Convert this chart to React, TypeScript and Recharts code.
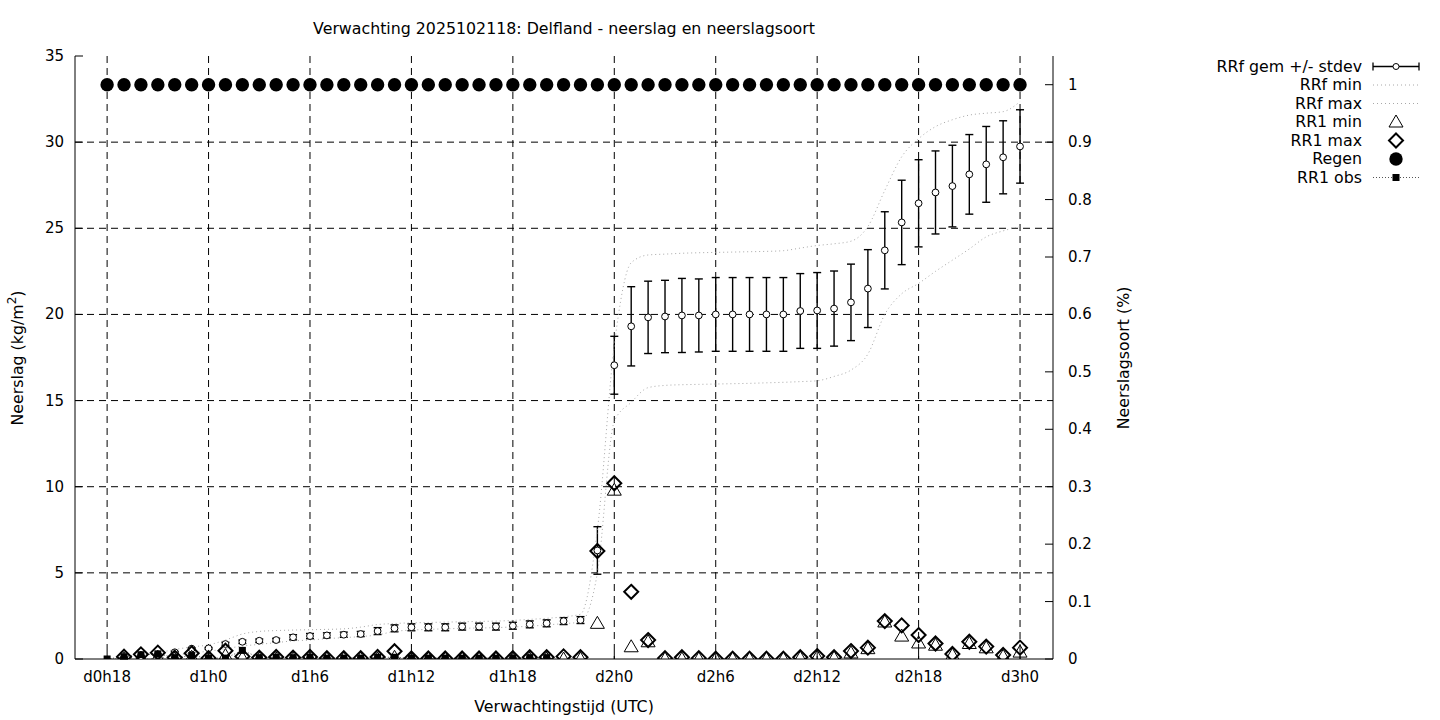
import React from "react";
import { ComposedChart, Line, XAxis, YAxis, CartesianGrid, ErrorBar } from "recharts";

const hours = [18, 19, 20, 21, 22, 23, 24, 25, 26, 27, 28, 29, 30, 31, 32, 33, 34, 35, 36, 37, 38, 39, 40, 41, 42, 43, 44, 45, 46, 47, 48, 49, 50, 51, 52, 53, 54, 55, 56, 57, 58, 59, 60, 61, 62, 63, 64, 65, 66, 67, 68, 69, 70, 71, 72];

const rrfMean = [null, 0.05, 0.15, 0.25, 0.39, 0.6, 0.62, 0.87, 1.0, 1.06, 1.1, 1.26, 1.33, 1.37, 1.41, 1.45, 1.62, 1.78, 1.84, 1.84, 1.84, 1.88, 1.88, 1.88, 1.93, 2.01, 2.07, 2.2, 2.26, 6.3, 17.05, 19.31, 19.83, 19.88, 19.94, 19.94, 20.0, 20.0, 20.0, 20.0, 20.0, 20.2, 20.23, 20.34, 20.7, 21.5, 23.72, 25.34, 26.45, 27.08, 27.45, 28.13, 28.71, 29.12, 29.75];

const rrfSd = [null, 0.05, 0.05, 0.05, 0.05, 0.05, 0.05, 0.1, 0.1, 0.1, 0.1, 0.15, 0.15, 0.15, 0.15, 0.15, 0.2, 0.2, 0.2, 0.2, 0.2, 0.2, 0.2, 0.2, 0.2, 0.2, 0.2, 0.2, 0.2, 1.38, 1.68, 2.3, 2.1, 2.1, 2.15, 2.12, 2.14, 2.14, 2.14, 2.14, 2.14, 2.17, 2.2, 2.18, 2.22, 2.26, 2.24, 2.45, 2.53, 2.41, 2.37, 2.31, 2.2, 2.12, 2.13];

const rrfMin = [0, 0, 0, 0.05, 0.2, 0.35, 0.45, 0.6, 0.75, 0.85, 0.95, 1.05, 1.1, 1.18, 1.24, 1.3, 1.4, 1.6, 1.68, 1.72, 1.75, 1.78, 1.8, 1.82, 1.86, 1.9, 1.98, 2.05, 2.15, 5.0, 13.8, 14.9, 15.75, 15.88, 15.92, 15.94, 15.96, 15.98, 16.0, 16.03, 16.06, 16.1, 16.15, 16.4, 16.77, 17.7, 20.0, 21.2, 21.8, 22.5, 23.15, 23.8, 24.5, 24.85, 25.1];

const rrfMax = [0, 0.05, 0.15, 0.35, 0.55, 0.7, 0.82, 1.1, 1.45, 1.6, 1.65, 1.68, 1.7, 1.72, 1.75, 1.85, 2.0, 2.06, 2.1, 2.12, 2.14, 2.16, 2.18, 2.2, 2.24, 2.3, 2.36, 2.45, 2.6, 7.5, 18.2, 23.0, 23.45, 23.5, 23.55, 23.58, 23.6, 23.62, 23.64, 23.66, 23.7, 23.85, 24.0, 24.1, 24.25, 25.1, 27.2, 29.15, 30.2, 30.9, 31.3, 31.57, 31.68, 31.77, 32.35];

const rr1Min = [null, 0, 0.05, 0.1, 0, 0.1, 0, 0.2, 0.05, 0, 0, 0, 0, 0, 0, 0, 0, 0.1, 0, 0, 0, 0, 0, 0, 0, 0, 0, 0, 0, 2.07, 9.8, 0.71, 1.0, 0, 0, 0, 0, 0, 0, 0, 0, 0.05, 0.1, 0.05, 0.35, 0.6, 2.15, 1.33, 0.93, 0.8, 0.22, 0.9, 0.65, 0.15, 0.4];

const rr1Max = [null, 0.13, 0.27, 0.37, 0.08, 0.33, 0.05, 0.48, 0.15, 0.08, 0.12, 0.08, 0.12, 0.05, 0.05, 0.05, 0.12, 0.45, 0.03, 0.03, 0.03, 0.03, 0.03, 0.03, 0.05, 0.1, 0.1, 0.15, 0.1, 6.27, 10.2, 3.9, 1.1, 0.05, 0.1, 0.05, 0.02, 0.02, 0.02, 0.02, 0.02, 0.1, 0.17, 0.1, 0.46, 0.66, 2.2, 1.95, 1.39, 0.9, 0.29, 1.0, 0.72, 0.23, 0.66];

const regen = [1, 1, 1, 1, 1, 1, 1, 1, 1, 1, 1, 1, 1, 1, 1, 1, 1, 1, 1, 1, 1, 1, 1, 1, 1, 1, 1, 1, 1, 1, 1, 1, 1, 1, 1, 1, 1, 1, 1, 1, 1, 1, 1, 1, 1, 1, 1, 1, 1, 1, 1, 1, 1, 1, 1];

const rr1Obs = [0, 0.13, 0.25, 0.3, 0.08, 0.2, 0.05, 0.05, 0.5, 0.08, 0.1, 0.08, 0.1, 0.05, 0.05, 0.05, 0.1, 0.1, 0.05, 0.05, 0.05, 0.05, 0.05, 0.05, 0.05, 0.08, 0.08, null, null, null, null, null, null, null, null, null, null, null, null, null, null, null, null, null, null, null, null, null, null, null, null, null, null, null, null];

const xTicks = [18, 24, 30, 36, 42, 48, 54, 60, 66, 72];
const xTickLabels = ["d0h18", "d1h0", "d1h6", "d1h12", "d1h18", "d2h0", "d2h6", "d2h12", "d2h18", "d3h0"];
const yTicks = [0, 5, 10, 15, 20, 25, 30, 35];
const y2Ticks = [0, 0.1, 0.2, 0.3, 0.4, 0.5, 0.6, 0.7, 0.8, 0.9, 1];
const gridY = [5, 10, 15, 20, 25, 30];

const title = "Verwachting 2025102118: Delfland - neerslag en neerslagsoort";
const xLabel = "Verwachtingstijd (UTC)";
const yLabelMain = "Neerslag (kg/m";
const yLabelSup = "2";
const yLabelEnd = ")";
const y2Label = "Neerslagsoort (%)";
const legendNames = ["RRf gem +/- stdev", "RRf min", "RRf max", "RR1 min", "RR1 max", "Regen", "RR1 obs"];

const data = hours.map((h, i) => ({
  h,
  mean: rrfMean[i],
  sd: rrfSd[i],
  rmin: rrfMin[i],
  rmax: rrfMax[i],
  min1: rr1Min[i],
  max1: rr1Max[i],
  regen: regen[i],
  obs: rr1Obs[i],
}));

const FONT = "'DejaVu Sans', sans-serif";
const FS = 15;
const FL = 15.8;

const ok = (p: any) => p && p.cx != null && p.cy != null && !isNaN(p.cx) && !isNaN(p.cy) && p.value != null;

const openCircle = (p: any) =>
  ok(p) ? <circle key={"c" + p.index} cx={p.cx} cy={p.cy} r={3.4} fill="#fff" stroke="#000" strokeWidth={1} /> : <g key={"c" + p.index} />;

const triangle = (p: any) =>
  ok(p) ? (
    <path key={"t" + p.index} d={`M${p.cx},${p.cy - 7}L${p.cx + 7},${p.cy + 5}L${p.cx - 7},${p.cy + 5}Z`} fill="none" stroke="#000" strokeWidth={1} />
  ) : <g key={"t" + p.index} />;

const diamond = (p: any) =>
  ok(p) ? (
    <path key={"d" + p.index} d={`M${p.cx},${p.cy - 7}L${p.cx + 7},${p.cy}L${p.cx},${p.cy + 7}L${p.cx - 7},${p.cy}Z`} fill="none" stroke="#000" strokeWidth={2} />
  ) : <g key={"d" + p.index} />;

const bigDot = (p: any) =>
  ok(p) ? <circle key={"r" + p.index} cx={p.cx} cy={p.cy} r={6.7} fill="#000" /> : <g key={"r" + p.index} />;

const square = (p: any) =>
  ok(p) ? <rect key={"s" + p.index} x={p.cx - 3.5} y={p.cy - 3.5} width={7} height={7} fill="#000" /> : <g key={"s" + p.index} />;

const XTick = (p: any) => {
  const i = xTicks.indexOf(p.payload.value);
  return (
    <g>
      <line x1={p.x} x2={p.x} y1={p.y} y2={p.y - 8} stroke="#000" />
      <text x={p.x} y={p.y + 23} textAnchor="middle" fontFamily={FONT} fontSize={FS} fill="#000">
        {i >= 0 ? xTickLabels[i] : ""}
      </text>
    </g>
  );
};

const YTick = (p: any) => (
  <g>
    <line x1={p.x} x2={p.x + 8} y1={p.y} y2={p.y} stroke="#000" />
    <text x={p.x - 11} y={p.y + 5} textAnchor="end" fontFamily={FONT} fontSize={FS} fill="#000">
      {p.payload.value}
    </text>
  </g>
);

const Y2Tick = (p: any) => (
  <g>
    <line x1={p.x} x2={p.x - 8} y1={p.y} y2={p.y} stroke="#000" />
    <text x={p.x + 15} y={p.y + 5} textAnchor="start" fontFamily={FONT} fontSize={FS} fill="#000">
      {p.payload.value}
    </text>
  </g>
);

const Overlay = () => {
  const rowY = [66.5, 85, 103.5, 122, 140.5, 159, 177.5];
  const tx = 1362;
  const sx = 1396;
  const symbols = [
    <g key="s0">
      <line x1={1373} x2={1419} y1={rowY[0]} y2={rowY[0]} stroke="#000" strokeWidth={1.3} />
      <line x1={1373} x2={1373} y1={rowY[0] - 4} y2={rowY[0] + 4} stroke="#000" strokeWidth={1.3} />
      <line x1={1419} x2={1419} y1={rowY[0] - 4} y2={rowY[0] + 4} stroke="#000" strokeWidth={1.3} />
      <circle cx={sx} cy={rowY[0]} r={3} fill="#fff" stroke="#000" />
    </g>,
    <line key="s1" x1={1373} x2={1418} y1={rowY[1]} y2={rowY[1]} stroke="#a8a8a8" strokeDasharray="1 3" />,
    <line key="s2" x1={1373} x2={1418} y1={rowY[2]} y2={rowY[2]} stroke="#a8a8a8" strokeDasharray="1 3" />,
    <path key="s3" d={`M${sx},${rowY[3] - 7}L${sx + 7},${rowY[3] + 5}L${sx - 7},${rowY[3] + 5}Z`} fill="none" stroke="#000" />,
    <path key="s4" d={`M${sx},${rowY[4] - 7}L${sx + 7},${rowY[4]}L${sx},${rowY[4] + 7}L${sx - 7},${rowY[4]}Z`} fill="none" stroke="#000" strokeWidth={2} />,
    <circle key="s5" cx={sx} cy={rowY[5]} r={6.7} fill="#000" />,
    <g key="s6">
      <line x1={1373} x2={1419} y1={rowY[6]} y2={rowY[6]} stroke="#555" strokeDasharray="1 2" />
      <rect x={sx - 3.5} y={rowY[6] - 3.5} width={7} height={7} fill="#000" />
    </g>,
  ];
  return (
    <svg width={1440} height={720} style={{ position: "absolute", left: 0, top: 0, pointerEvents: "none" }}>
      <text x={564} y={34} textAnchor="middle" fontFamily={FONT} fontSize={FL} fill="#000">{title}</text>
      <text x={564} y={712} textAnchor="middle" fontFamily={FONT} fontSize={FL} fill="#000">{xLabel}</text>
      <text transform="translate(23,358) rotate(-90)" textAnchor="middle" fontFamily={FONT} fontSize={FL} fill="#000">
        {yLabelMain}
        <tspan dy={-7} fontSize={12}>{yLabelSup}</tspan>
        <tspan dy={7}>{yLabelEnd}</tspan>
      </text>
      <text transform="translate(1129,358) rotate(-90)" textAnchor="middle" fontFamily={FONT} fontSize={FL} fill="#000">{y2Label}</text>
      {legendNames.map((n, i) => (
        <text key={n} x={tx} y={rowY[i] + 5} textAnchor="end" fontFamily={FONT} fontSize={FL} fill="#000">{n}</text>
      ))}
      {symbols}
    </svg>
  );
};

export default function App() {
  return (
    <div style={{ position: "absolute", left: 0, top: 0, width: 1440, height: 720, background: "#fff" }}>
      <ComposedChart width={1440} height={720} data={data} margin={{ top: 56, right: 327, bottom: 31, left: 0 }}>
        <CartesianGrid
          yAxisId="left"
          stroke="#000"
          strokeDasharray="7 5"
          horizontalValues={gridY}
          verticalValues={xTicks}
        />
        <XAxis
          dataKey="h"
          type="number"
          domain={[16.1, 73.95]}
          allowDataOverflow
          ticks={xTicks}
          interval={0}
          height={30}
          tickSize={0}
          tickMargin={0}
          tickLine={false}
          axisLine={{ stroke: "#000" }}
          tick={<XTick />}
        />
        <YAxis
          yAxisId="left"
          domain={[0, 35]}
          allowDataOverflow
          ticks={yTicks}
          interval={0}
          width={75}
          tickSize={0}
          tickMargin={0}
          tickLine={false}
          axisLine={{ stroke: "#000" }}
          tick={<YTick />}
        />
        <YAxis
          yAxisId="right"
          orientation="right"
          domain={[0, 1.05]}
          allowDataOverflow
          ticks={y2Ticks}
          interval={0}
          width={60}
          tickSize={0}
          tickMargin={0}
          tickLine={false}
          axisLine={{ stroke: "#000" }}
          tick={<Y2Tick />}
        />
        <Line yAxisId="left" dataKey="mean" stroke="none" isAnimationActive={false} dot={openCircle} activeDot={false} connectNulls={false}>
          <ErrorBar dataKey="sd" direction="y" width={4} stroke="#000" strokeWidth={1.4} />
        </Line>
        <Line yAxisId="left" dataKey="rmin" type="monotone" stroke="#a8a8a8" strokeWidth={1} strokeDasharray="1 3" dot={false} activeDot={false} isAnimationActive={false} />
        <Line yAxisId="left" dataKey="rmax" type="monotone" stroke="#a8a8a8" strokeWidth={1} strokeDasharray="1 3" dot={false} activeDot={false} isAnimationActive={false} />
        <Line yAxisId="left" dataKey="min1" stroke="none" dot={triangle} activeDot={false} isAnimationActive={false} />
        <Line yAxisId="left" dataKey="max1" stroke="none" dot={diamond} activeDot={false} isAnimationActive={false} />
        <Line yAxisId="right" dataKey="regen" stroke="none" dot={bigDot} activeDot={false} isAnimationActive={false} />
        <Line yAxisId="left" dataKey="obs" stroke="#555" strokeDasharray="1 2" dot={square} activeDot={false} isAnimationActive={false} />
      </ComposedChart>
      <Overlay />
    </div>
  );
}
